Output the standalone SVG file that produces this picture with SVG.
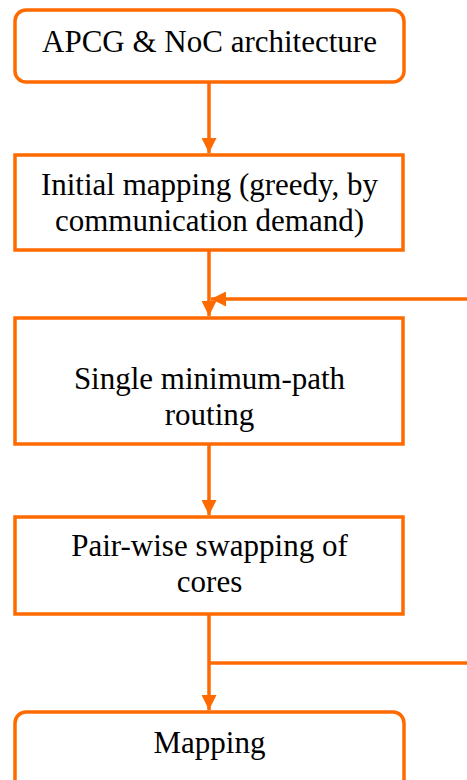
<svg xmlns="http://www.w3.org/2000/svg" width="467" height="780" viewBox="0 0 467 780">
  <style>
    .box { fill: #ffffff; stroke: #ff6a00; stroke-width: 3.5; }
    .edge { fill: none; stroke: #ff6a00; stroke-width: 3.5; }
    .label { font-family: "Liberation Serif", "Times New Roman", serif; font-size: 31px; fill: #000000; text-anchor: middle; }
  </style>
  <defs>
    <marker id="arrow" viewBox="0 0 10 10" refX="10" refY="5" markerUnits="userSpaceOnUse" markerWidth="15" markerHeight="15" orient="auto">
      <path d="M0,0 L10,5 L0,10 Z" fill="#ff6a00"/>
    </marker>
  </defs>

  <rect width="467" height="780" fill="#ffffff"/>

  <g id="connectors">
    <line class="edge" x1="209" y1="82" x2="209" y2="153" marker-end="url(#arrow)"/>
    <line class="edge" x1="209" y1="250" x2="209" y2="316" marker-end="url(#arrow)"/>
    <line class="edge" x1="467" y1="299" x2="211" y2="299" marker-end="url(#arrow)"/>
    <line class="edge" x1="209" y1="444" x2="209" y2="515" marker-end="url(#arrow)"/>
    <line class="edge" x1="209" y1="614" x2="209" y2="710" marker-end="url(#arrow)"/>
    <line class="edge" x1="209" y1="663" x2="467" y2="663"/>
  </g>

  <g id="apcg-noc">
    <rect class="box" x="15" y="10" width="389" height="72" rx="11"/>
    <text class="label" x="209.5" y="52">APCG &amp; NoC architecture</text>
  </g>

  <g id="initial-mapping">
    <rect class="box" x="15" y="155" width="388" height="95"/>
    <text class="label" x="209.5" y="195">Initial mapping (greedy, by</text>
    <text class="label" x="209.5" y="231">communication demand)</text>
  </g>

  <g id="routing">
    <rect class="box" x="15" y="318" width="388" height="126"/>
    <text class="label" x="209.5" y="389">Single minimum-path</text>
    <text class="label" x="209.5" y="425">routing</text>
  </g>

  <g id="swapping">
    <rect class="box" x="15" y="517" width="388" height="97"/>
    <text class="label" x="209.5" y="556">Pair-wise swapping of</text>
    <text class="label" x="209.5" y="592">cores</text>
  </g>

  <g id="mapping">
    <rect class="box" x="15" y="712" width="389" height="90" rx="11"/>
    <text class="label" x="209.5" y="753">Mapping</text>
  </g>
</svg>
